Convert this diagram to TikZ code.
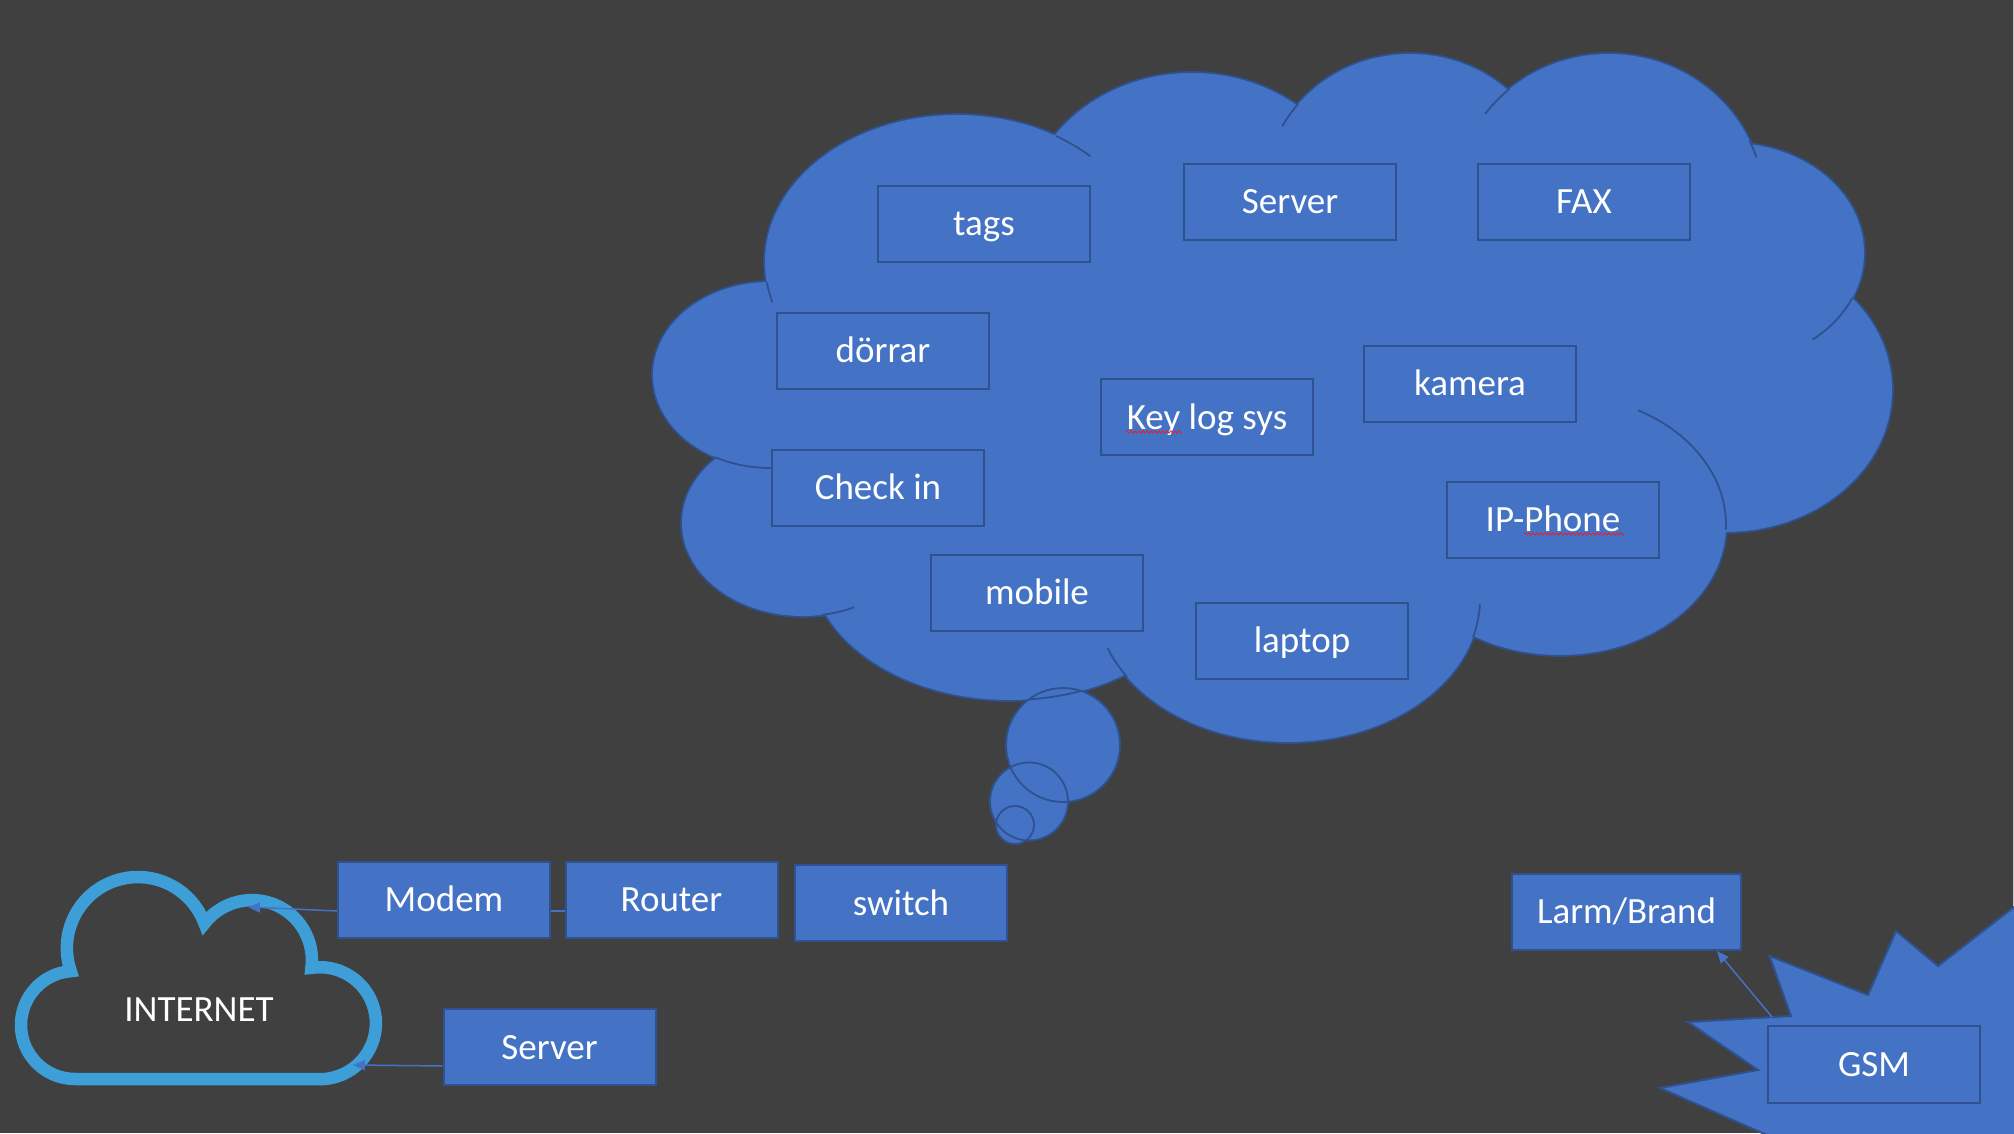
\documentclass[tikz,border=0pt]{standalone}
\usepackage{fontspec}
\setmainfont{Carlito}
\usetikzlibrary{arrows.meta,decorations.pathmorphing}
\definecolor{bg}{HTML}{404040}
\definecolor{blu}{HTML}{4472C4}
\definecolor{bord}{HTML}{2F528F}
\definecolor{sky}{HTML}{3E9FD8}
\definecolor{edgegray}{HTML}{C8C8C8}
\definecolor{spellred}{HTML}{E8202A}
\tikzset{
  lobes/.style={insert path={
    (957,871) ellipse [x radius=192, y radius=147]
    (1192,910) ellipse [x radius=169, y radius=150]
    (1410,939) ellipse [x radius=146, y radius=140]
    (1609,929) ellipse [x radius=155, y radius=150]
    (1730,880) ellipse [x radius=134, y radius=110]
    (1725,743) ellipse [x radius=167, y radius=142]
    (1560,608) ellipse [x radius=166, y radius=130]
    (1288,534) ellipse [x radius=192, y radius=143]
    (1010,573) ellipse [x radius=200, y radius=140]
    (803,610) ellipse [x radius=121, y radius=93]
    (770,758) ellipse [x radius=117, y radius=93]
  }},
  filler/.style={insert path={(1280,713) ellipse [x radius=450, y radius=230]}},
  bubbles/.style={insert path={
    (1063,388) circle [radius=57]
    (1029,331.5) circle [radius=39]
    (1015,308) circle [radius=19]
  }},
  box/.style={draw=bord, line width=2pt, fill=blu, minimum width=212pt,
    minimum height=76pt, inner sep=0pt, text=white,
    font=\fontsize{37}{44}\selectfont, text height=30pt, text depth=6pt},
  crease/.style={draw=bord, line width=1.8pt},
  conn/.style={draw=blu, line width=1.5pt},
  tip/.style={-{Triangle[length=12pt,width=10pt]}},
  squiggle/.style={draw=spellred, line width=0.8pt, decorate,
    decoration={zigzag, segment length=4pt, amplitude=1.2pt}}
}
\begin{document}
\begin{tikzpicture}[x=1pt,y=1pt]
\fill[bg] (0,0) rectangle (2014,1133);
\useasboundingbox (0,0) rectangle (2014,1133);
\draw[edgegray, line width=1.4pt] (2013.3,0) -- (2013.3,1133);

% thought cloud
\path[draw=bord, line width=3.6pt, fill=blu, lobes];
\path[fill=blu, lobes, filler];
\draw[crease] (957,871) ++(59:192 and 147) arc[start angle=59, end angle=46, x radius=192, y radius=147];
\draw[crease] (1410,939) ++(140:146 and 140) arc[start angle=140, end angle=151, x radius=146, y radius=140];
\draw[crease] (1609,929) ++(130:155 and 150) arc[start angle=130, end angle=143, x radius=155, y radius=150];
\draw[crease] (1609,929) ++(25:155 and 150) arc[start angle=25, end angle=18, x radius=155, y radius=150];
\draw[crease] (1730,880) ++(-24:134 and 110) arc[start angle=-24, end angle=-52, x radius=134, y radius=110];
\draw[crease] (1560,608) ++(62:166 and 130) arc[start angle=62, end angle=-2, x radius=166, y radius=130];
\draw[crease] (1288,534) ++(-15.5:192 and 143) arc[start angle=-15.5, end angle=-2, x radius=192, y radius=143];
\draw[crease] (1288,534) ++(213:192 and 143) arc[start angle=213, end angle=200, x radius=192, y radius=143];
\draw[crease] (803,610) ++(-81:121 and 93) arc[start angle=-81, end angle=-65, x radius=121, y radius=93];
\draw[crease] (770,758) ++(242:117 and 93) arc[start angle=242, end angle=271, x radius=117, y radius=93];
\draw[crease] (957,871) ++(188:192 and 147) arc[start angle=188, end angle=196, x radius=192, y radius=147];

% bubbles of the tail
\path[fill=blu, bubbles];
\path[crease, bubbles];
\begin{scope}
  \clip (1063,388) circle [radius=57];
  \draw[crease] (1010,573) ellipse [x radius=200, y radius=140];
\end{scope}

% boxes in the cloud
\node[box] (tags) at (984,909) {tags};
\node[box] (srv1) at (1290,931) {Server};
\node[box] (fax) at (1584,931) {FAX};
\node[box] (door) at (883,782) {dörrar};
\node[box] (keylog) at (1207,715.5) {Key log sys};
\node[box] (cam) at (1470,749) {kamera};
\node[box] (checkin) at (878,645) {Check in};
\node[box] (ipphone) at (1553,613) {IP-Phone};
\node[box] (mobile) at (1037,540) {mobile};
\node[box] (laptop) at (1302,492) {laptop};
\draw[squiggle] (1126,701) -- (1182,701);
\draw[squiggle] (1524,599) -- (1624,599);

% internet cloud
\draw[sky, line width=12.5pt, line join=miter]
  (75,54) arc[start angle=-90, end angle=-265.5, radius=54]
  arc[start angle=199, end angle=20.3, radius=71]
  arc[start angle=142.3, end angle=-7.4, radius=60]
  arc[start angle=98.7, end angle=-90, radius=56] -- cycle;
\node[text=white, font=\fontsize{37}{44}\selectfont, text height=30pt, text depth=6pt, inner sep=0pt] (inet) at (199,123.3) {INTERNET};

% bottom boxes
\node[box] (modem) at (444,233) {Modem};
\node[box] (router) at (671.5,233) {Router};
\node[box] (switch) at (901,229.5) {switch};
\node[box] (srv2) at (549.5,86) {Server};

% GSM star
\draw[fill=blu, draw=bord, line width=2pt, line join=miter]
  (2030,238.4) -- (1938,167) -- (1896,202) -- (1868,138) -- (1769.5,177)
  -- (1791,117) -- (1688,111) -- (1758,63) -- (1660,45) -- (1785,-10)
  -- (2030,-10) -- cycle;
\node[box, minimum width=229pt] (larm) at (1626.5,221) {Larm/Brand};
\node[box] (gsm) at (1874,68.5) {GSM};

% connectors
\coordinate (inetM) at (248,226);
\coordinate (inetS) at (353,68);
\coordinate (gsmpt) at (1772,116);
\draw[conn, tip] ([yshift=-11pt]modem.west) -- (inetM);
\draw[conn] ([yshift=-11pt]modem.east) -- ([yshift=-11pt]router.west);
\draw[conn, tip] ([yshift=-19pt]srv2.west) -- (inetS);
\draw[conn, tip] (gsmpt) -- ([xshift=90.5pt]larm.south);
\end{tikzpicture}
\end{document}
